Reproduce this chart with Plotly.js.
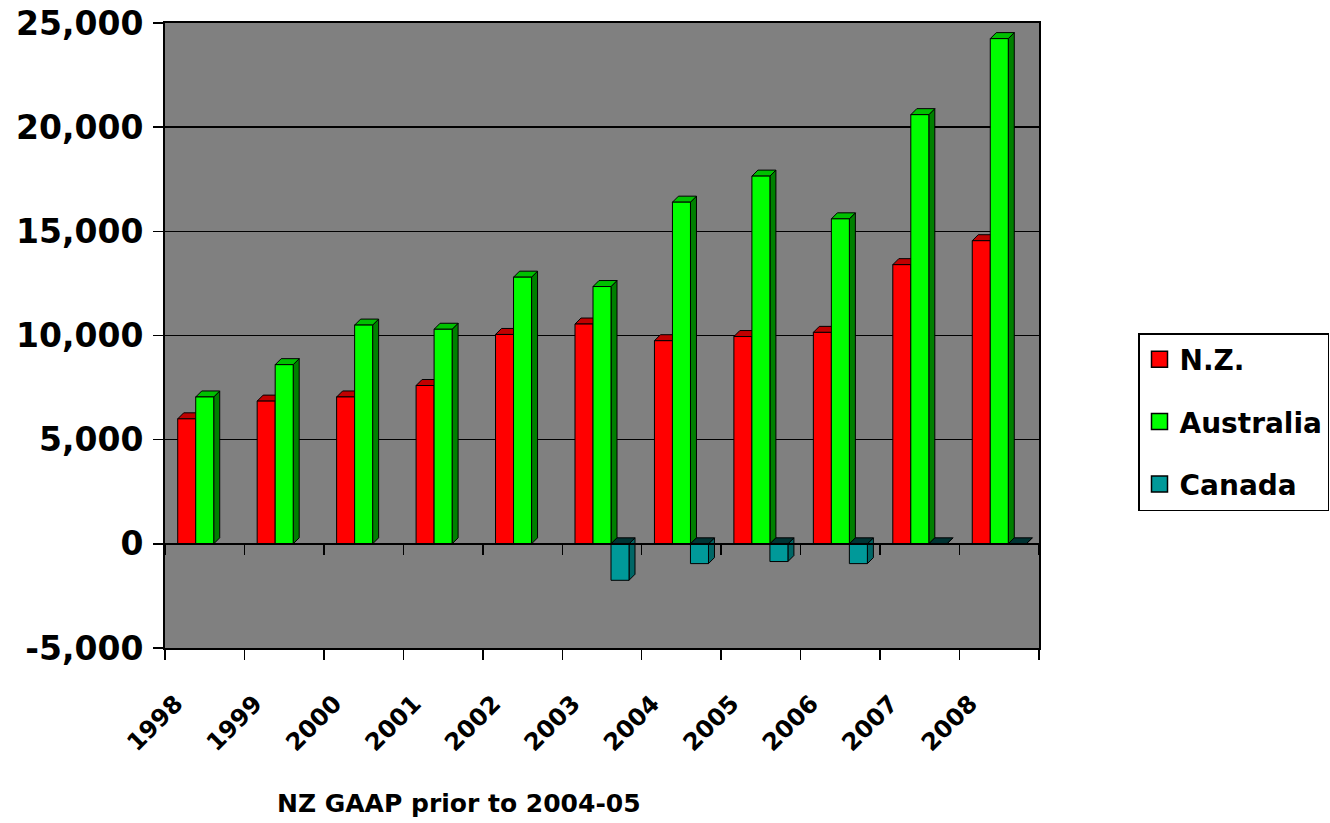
<!DOCTYPE html>
<html>
<head>
<meta charset="utf-8">
<script src="https://cdn.plot.ly/plotly-3.0.1.min.js"></script>
<style>html,body{margin:0;padding:0;background:#fff;}#chart{width:1330px;height:823px;}</style>
</head>
<body>
<div id="chart"></div>
<script>
// ---- data ----
const years = ['1998','1999','2000','2001','2002','2003','2004','2005','2006','2007','2008'];
const nzValues = [6000, 6850, 7050, 7600, 10050, 10550, 9750, 9950, 10150, 13400, 14550];
const auValues = [7050, 8600, 10500, 10300, 12800, 12350, 16400, 17650, 15600, 20600, 24250];
const caValues = [null, null, null, null, null, -1750, -950, -850, -950, 0, 0];
const seriesNames = ['N.Z.', 'Australia', 'Canada'];
const yTickVals = [-5000, 0, 5000, 10000, 15000, 20000, 25000];
const yTickText = ['-5,000', '0', '5,000', '10,000', '15,000', '20,000', '25,000'];
const xTitleText = 'NZ GAAP prior to 2004-05';

// ---- styles ----
const W = 1330, H = 823;
const M = {l: 165, r: 291, t: 23, b: 175, autoexpand: false};
const plotW = W - M.l - M.r, plotH = H - M.t - M.b;
const yRange = [-5000, 25000];
const xRange = [-0.5, years.length - 0.5];
const frontCol = ['#FF0000', '#00FF00', '#009999'];
const topCol = ['#C00000', '#00C000', '#003333'];
const sideCol = ['#800000', '#008000', '#006666'];
const groupW = 0.68, nS = 3, bw = groupW / nS;
const depthPx = 6;
const dx = depthPx * (xRange[1] - xRange[0]) / plotW;
const dy = depthPx * (yRange[1] - yRange[0]) / plotH;
const FONT = 'DejaVu Sans, Verdana, sans-serif';

const allVals = [nzValues, auValues, caValues];
const traces = [];
allVals.forEach((vals, k) => {
  traces.push({
    type: 'bar', x: years, y: vals, name: seriesNames[k],
    width: bw, offset: -groupW / 2 + k * bw,
    marker: {color: frontCol[k], line: {color: '#000', width: 1}},
    showlegend: false, hoverinfo: 'x+y+name'
  });
});
// legend entries
seriesNames.forEach((n, k) => {
  traces.push({
    type: 'scatter', mode: 'markers', x: [null], y: [null], xaxis: 'x2', name: n,
    legendgroup: 'g' + k,
    marker: {symbol: 'square', size: 16, color: frontCol[k], line: {color: '#000', width: 1.5}},
    hoverinfo: 'skip'
  });
});

// 3D faces built from the data (category index positions)
const shapes = [];
allVals.forEach((vals, k) => {
  vals.forEach((v, i) => {
    if (v === null || v === undefined) return;
    const x0 = i - groupW / 2 + k * bw, x1 = x0 + bw;
    const topY = Math.max(v, 0);
    const botY = Math.min(v, 0);
    shapes.push({
      type: 'path', xref: 'x', yref: 'y', layer: 'between',
      path: `M${x1},${topY} L${x1 + dx},${topY + dy} L${x1 + dx},${botY + dy} L${x1},${botY} Z`,
      fillcolor: sideCol[k], line: {color: '#000', width: 1}
    });
    shapes.push({
      type: 'path', xref: 'x', yref: 'y', layer: 'between',
      path: `M${x0},${topY} L${x1},${topY} L${x1 + dx},${topY + dy} L${x0 + dx},${topY + dy} Z`,
      fillcolor: topCol[k], line: {color: '#000', width: 1}
    });
  });
});

const boundaries = [];
for (let i = 0; i <= years.length; i++) boundaries.push(i - 0.5);

const layout = {
  width: W, height: H,
  margin: M,
  paper_bgcolor: '#ffffff',
  plot_bgcolor: '#808080',
  barmode: 'overlay',
  showlegend: true,
  font: {family: FONT, color: '#000'},
  xaxis: {
    type: 'category', categoryorder: 'array', categoryarray: years,
    range: xRange, tickson: 'boundaries', ticks: 'outside', ticklen: 10, tickwidth: 1.5, tickcolor: '#000',
    showline: true, linecolor: '#000', linewidth: 2, mirror: true,
    showgrid: false, zeroline: false,
    tickangle: -45, ticklabelshift: -29, ticklabelstandoff: 30,
    tickfont: {family: FONT, size: 24, color: '#000', weight: 'bold'},
    fixedrange: true
  },
  xaxis2: {
    overlaying: 'x', anchor: 'free', position: (0 - yRange[0]) / (yRange[1] - yRange[0]), side: 'bottom',
    range: xRange, tickmode: 'array', tickvals: boundaries, showticklabels: false,
    ticks: 'outside', ticklen: 10, tickwidth: 1.5, tickcolor: '#000',
    showline: true, linecolor: '#000', linewidth: 2, showgrid: false, zeroline: false, fixedrange: true
  },
  yaxis: {
    range: yRange, tickmode: 'array', tickvals: yTickVals, ticktext: yTickText,
    ticks: 'outside', ticklen: 10, tickwidth: 1.5, tickcolor: '#000', ticklabelstandoff: 3,
    showline: true, linecolor: '#000', linewidth: 2, mirror: true,
    showgrid: true, gridcolor: '#000', gridwidth: 1.5, zeroline: false,
    tickfont: {family: FONT, size: 33, color: '#000', weight: 'bold'},
    fixedrange: true
  },
  legend: {
    x: (1138 - M.l) / plotW, xanchor: 'left',
    y: (H - M.b - 333) / plotH, yanchor: 'top',
    bgcolor: '#ffffff', bordercolor: '#000', borderwidth: 1.5,
    font: {family: FONT, size: 28, color: '#000', weight: 'bold'},
    tracegroupgap: 23, traceorder: 'grouped'
  },
  annotations: [{
    text: xTitleText, xref: 'paper', yref: 'paper',
    x: (459 - M.l) / plotW, y: (H - M.b - 803) / plotH, xanchor: 'center', yanchor: 'middle',
    showarrow: false, font: {family: FONT, size: 25, color: '#000', weight: 'bold'}
  }],
  shapes: shapes
};

Plotly.newPlot('chart', traces, layout, {displayModeBar: false, staticPlot: true});
</script>
</body>
</html>
